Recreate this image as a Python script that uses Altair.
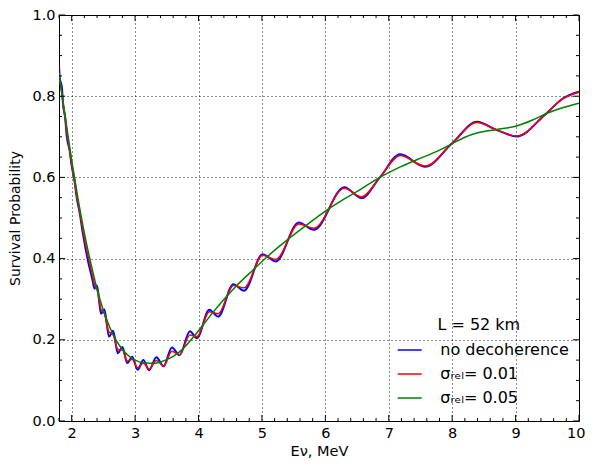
import altair as alt
import pandas as pd

# ---- data ----
E_OSC = [1.800, 1.812, 1.845, 1.866, 1.897, 1.920, 1.970, 1.998, 2.048, 2.078,
         2.135, 2.168, 2.220, 2.255, 2.325, 2.360, 2.400, 2.462, 2.515, 2.588,
         2.652, 2.728, 2.800, 2.876, 2.955, 3.040, 3.130, 3.220, 3.335, 3.450,
         3.580, 3.700, 3.865, 3.975, 4.170, 4.310, 4.550, 4.720, 5.010, 5.220,
         5.580, 5.820, 6.300, 6.570, 6.860, 7.180, 7.570, 8.000, 8.390, 8.700,
         9.020, 9.460, 9.750, 10.00]
P_BLUE = [0.877, 0.845, 0.822, 0.776, 0.748, 0.705, 0.664, 0.631, 0.588, 0.552,
          0.505, 0.470, 0.424, 0.396, 0.350, 0.326, 0.334, 0.264, 0.275, 0.208,
          0.222, 0.167, 0.182, 0.143, 0.158, 0.126, 0.150, 0.125, 0.157, 0.135,
          0.181, 0.162, 0.221, 0.204, 0.274, 0.257, 0.337, 0.321, 0.411, 0.393,
          0.489, 0.471, 0.576, 0.549, 0.600, 0.657, 0.626, 0.684, 0.737, 0.717,
          0.701, 0.754, 0.795, 0.811]
P_RED = [0.858, 0.840, 0.806, 0.778, 0.744, 0.715, 0.664, 0.633, 0.587, 0.557,
         0.507, 0.478, 0.434, 0.408, 0.360, 0.336, 0.323, 0.275, 0.264, 0.219,
         0.213, 0.176, 0.175, 0.148, 0.152, 0.131, 0.143, 0.128, 0.149, 0.136,
         0.172, 0.163, 0.212, 0.208, 0.269, 0.264, 0.334, 0.328, 0.408, 0.398,
         0.485, 0.475, 0.573, 0.552, 0.600, 0.654, 0.628, 0.684, 0.735, 0.717,
         0.702, 0.754, 0.794, 0.810]
E_GREEN = [1.80, 1.90, 2.00, 2.10, 2.20, 2.30, 2.40, 2.50, 2.60, 2.70,
           2.80, 2.90, 3.00, 3.15, 3.30, 3.45, 3.60, 3.75, 3.90, 4.05,
           4.20, 4.40, 4.60, 4.86, 5.10, 5.40, 5.70, 6.00, 6.30, 6.55,
           6.86, 7.20, 7.45, 7.80, 8.00, 8.20, 8.40, 8.70, 9.00, 9.25,
           9.50, 9.75, 10.00]
P_GREEN = [0.856, 0.748, 0.642, 0.547, 0.463, 0.390, 0.325, 0.272, 0.231, 0.199,
           0.176, 0.160, 0.150, 0.143, 0.142, 0.148, 0.159, 0.177, 0.203, 0.232,
           0.262, 0.299, 0.333, 0.372, 0.407, 0.446, 0.482, 0.517, 0.547, 0.570,
           0.600, 0.627, 0.644, 0.667, 0.683, 0.699, 0.710, 0.718, 0.726, 0.740,
           0.758, 0.772, 0.783]

SERIES = ["no decoherence", "σᵣₑₗ= 0.01", "σᵣₑₗ= 0.05"]
COLORS = ["#0000ff", "#ff0000", "#008000"]
WIDTHS = [2.0, 1.5, 1.5]

X_MAJOR = [2, 3, 4, 5, 6, 7, 8, 9, 10]
X_MINOR = [round(1.8 + 0.2 * i, 1) for i in range(42) if round(1.8 + 0.2 * i, 1) not in X_MAJOR]
Y_MAJOR = [0.0, 0.2, 0.4, 0.6, 0.8, 1.0]
Y_MINOR = [round(0.05 * i, 2) for i in range(21) if i % 4 != 0]

W, H = 520, 406
MAJ, MIN = 6, 3

rows = []
for e, b, r in zip(E_OSC, P_BLUE, P_RED):
    rows.append({"E": e, "P": b, "series": SERIES[0]})
    rows.append({"E": e, "P": r, "series": SERIES[1]})
for e, g in zip(E_GREEN, P_GREEN):
    rows.append({"E": e, "P": g, "series": SERIES[2]})
df = pd.DataFrame(rows)

xs = alt.Scale(domain=[1.8, 10], nice=False, zero=False)
ys = alt.Scale(domain=[0, 1], nice=False, zero=False)

FONT = "DejaVu Sans"

color = alt.Color(
    "series:N",
    scale=alt.Scale(domain=SERIES, range=COLORS),
    legend=alt.Legend(
        title="\u200b" + "\u00a0" * 8 + "L = 52 km",
        orient="none", legendX=337.7, legendY=302,
        symbolType="stroke", symbolSize=576, symbolStrokeWidth=1.5,
        labelOffset=17.6, titlePadding=4, padding=0, rowPadding=3,
        labelFontSize=16, titleFontSize=16, titleFontWeight="normal",
        labelFont=FONT, titleFont=FONT, labelColor="black", titleColor="black",
        labelLimit=0, titleLimit=0,
    ),
)

main_x = alt.Axis(orient="bottom", values=X_MAJOR, format="d", ticks=False, tickSize=0,
                  domain=False, grid=True, gridColor="black", gridDash=[1, 3], gridWidth=1,
                  gridOpacity=0.9,
                  labelFontSize=14.5, labelPadding=5.5, labelFlush=1, labelFlushOffset=6,
                  title="Eν, MeV", titleFontSize=14.5, titlePadding=4)
main_y = alt.Axis(orient="left", values=Y_MAJOR, format=".1f", ticks=False, tickSize=0,
                  domain=False, grid=True, gridColor="black", gridDash=[1, 3], gridWidth=1,
                  gridOpacity=0.9,
                  labelFontSize=14.5, labelPadding=4, labelFlush=False,
                  title="Survival Probability", titleFontSize=14, titlePadding=9)

layers = []
for i, (name, w) in enumerate(zip(SERIES, WIDTHS)):
    layers.append(
        alt.Chart(df).transform_filter(alt.datum.series == name)
        .mark_line(strokeWidth=w, interpolate="monotone", clip=True)
        .encode(
            x=alt.X("E:Q", scale=xs, axis=main_x if i == 0 else None),
            y=alt.Y("P:Q", scale=ys, axis=main_y if i == 0 else None),
            color=color,
        )
    )

# inward tick marks on all four sides (matplotlib classic style)
def xticks(vals, y0, y1):
    return alt.Chart(pd.DataFrame({"v": vals})).mark_rule(color="black", strokeWidth=1).encode(
        x=alt.X("v:Q", scale=xs, axis=None), y=alt.value(y0), y2=alt.value(y1))


def yticks(vals, x0, x1):
    return alt.Chart(pd.DataFrame({"v": vals})).mark_rule(color="black", strokeWidth=1).encode(
        y=alt.Y("v:Q", scale=ys, axis=None), x=alt.value(x0), x2=alt.value(x1))


layers += [
    xticks(X_MAJOR, H, H - MAJ), xticks(X_MINOR, H, H - MIN),
    xticks(X_MAJOR, 0, MAJ), xticks(X_MINOR, 0, MIN),
    yticks(Y_MAJOR, 0, MAJ), yticks(Y_MINOR, 0, MIN),
    yticks(Y_MAJOR, W, W - MAJ), yticks(Y_MINOR, W, W - MIN),
]

chart = (
    alt.layer(*layers)
    .resolve_axis(x="independent", y="independent")
    .properties(width=W, height=H,
                autosize=alt.AutoSizeParams(type="none"),
                padding={"left": 51, "top": 7, "right": 7, "bottom": 37})
    .configure_view(stroke="black", strokeWidth=1)
    .configure_axis(labelFont=FONT, titleFont=FONT, labelColor="black",
                    titleColor="black", titleFontWeight="normal")
)

chart.save("out.html", embed_options={"renderer": "svg", "actions": False})
